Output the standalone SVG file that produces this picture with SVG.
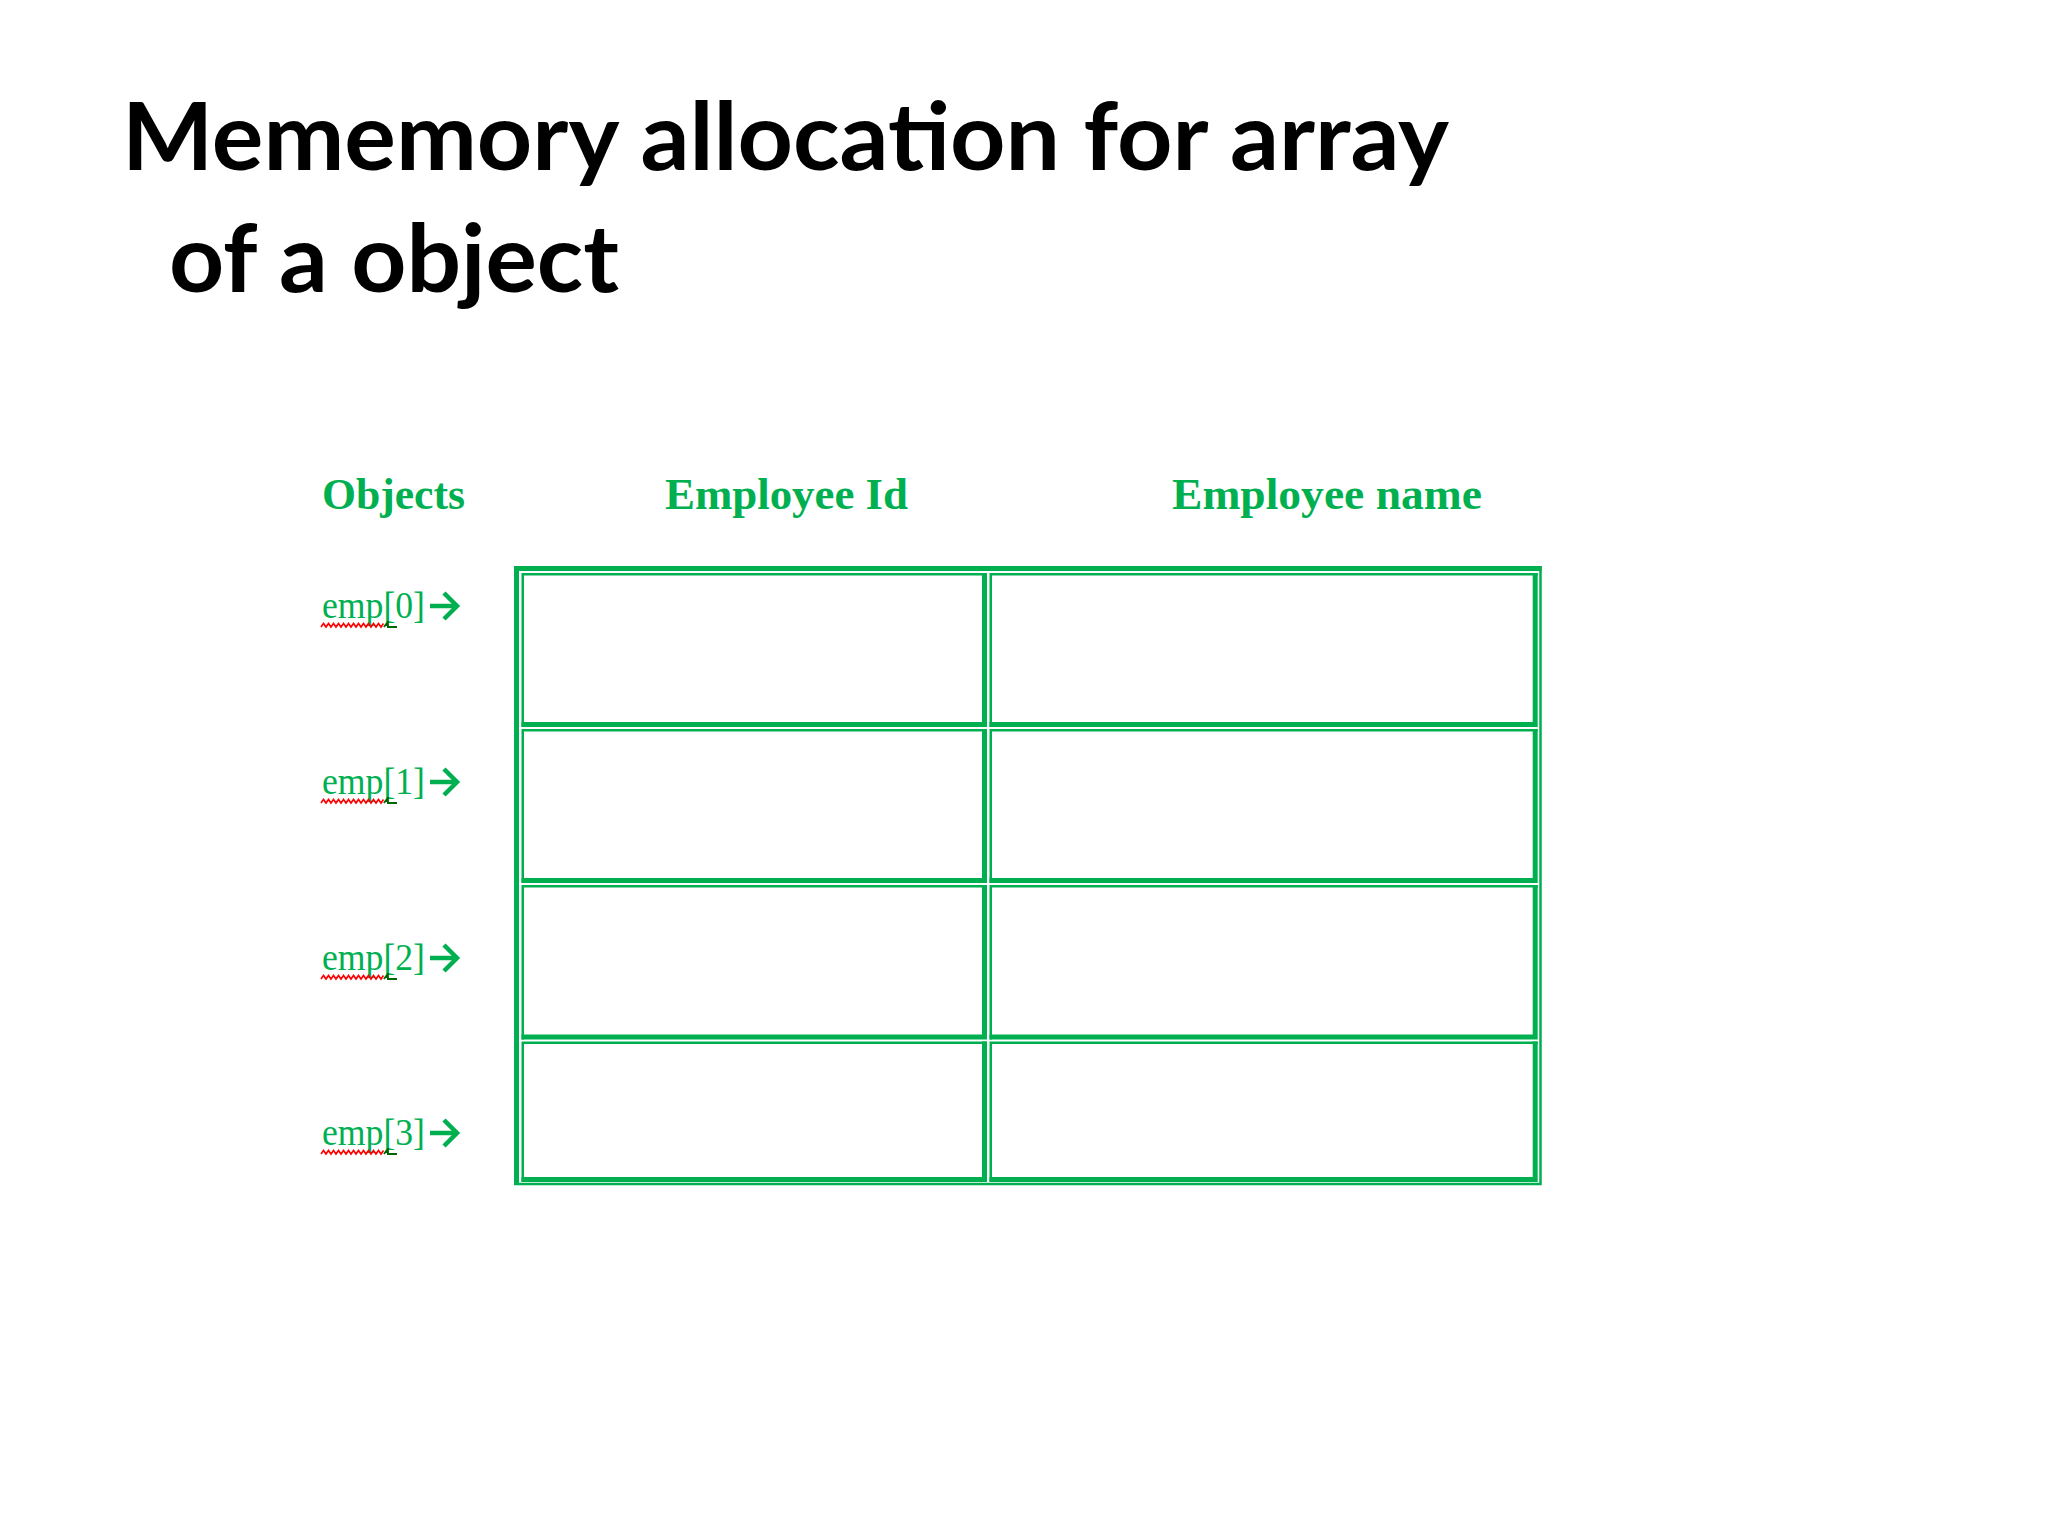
<svg xmlns="http://www.w3.org/2000/svg" xmlns:xlink="http://www.w3.org/1999/xlink" width="2048" height="1536" viewBox="0 0 2048 1536">
  <style>
    .title { font-family: Lato, "Liberation Sans", sans-serif; font-weight: bold; font-size: 94px; fill: #000000; }
    .head { font-family: "Liberation Serif", "Times New Roman", serif; font-weight: bold; font-size: 44px; fill: #00B050; }
    .lbl { font-family: "Liberation Serif", "Times New Roman", serif; font-size: 37px; fill: #00B050; }
    .thin { fill: none; stroke: #00B050; stroke-width: 2.5; }
    .thick { fill: none; stroke: #00B050; stroke-width: 5; }
    .arrow { fill: none; stroke: #00B050; stroke-width: 4.5; stroke-linecap: butt; stroke-linejoin: miter; }
    .spell { fill: none; stroke: #FF0000; stroke-width: 1.6; }
    .gram { fill: none; stroke: #006400; stroke-width: 1.8; }
  </style>
  <defs>
    <g id="pointer">
      <path class="arrow" d="M430,-12 H456"/>
      <path class="arrow" d="M444,-25 L457,-12 L444,1"/>
    </g>
    <g id="squiggle">
      <path class="spell" d="M0,9 l2.5,-3.5 l2.5,3.5 l2.5,-3.5 l2.5,3.5 l2.5,-3.5 l2.5,3.5 l2.5,-3.5 l2.5,3.5 l2.5,-3.5 l2.5,3.5 l2.5,-3.5 l2.5,3.5 l2.5,-3.5 l2.5,3.5 l2.5,-3.5 l2.5,3.5 l2.5,-3.5 l2.5,3.5 l2.5,-3.5 l2.5,3.5 l2.5,-3.5 l2.5,3.5 l2.5,-3.5 l2.5,3.5 l2.5,-3.5"/>
      <path class="gram" d="M63,9 l2.5,-3.5 l2.5,3.5 M67,3 v7 M66,9 h10"/>
    </g>
  </defs>
  <rect x="0" y="0" width="2048" height="1536" fill="#FFFFFF"/>

  <g id="title">
    <text class="title" x="122" y="170" textLength="1327" lengthAdjust="spacingAndGlyphs">Mememory allocation for array</text>
    <text class="title" x="169" y="292" textLength="450" lengthAdjust="spacingAndGlyphs">of a object</text>
  </g>

  <g id="headers">
    <text class="head" x="322" y="509" textLength="143" lengthAdjust="spacingAndGlyphs">Objects</text>
    <text class="head" x="665" y="509" textLength="243" lengthAdjust="spacingAndGlyphs">Employee Id</text>
    <text class="head" x="1172" y="509" textLength="310" lengthAdjust="spacingAndGlyphs">Employee name</text>
  </g>

  <g id="table-frame">
    <path class="thick" d="M516.5,1185 V568.5 H1541.7"/>
    <path class="thin" d="M514,1183.9 H1540.5 V566"/>
  </g>

  <g id="cell-0-id">
    <path class="thin" d="M522.75,727 V574.25 H987"/>
    <path class="thick" d="M521.5,724.5 H984.5 V573"/>
  </g>
  <g id="cell-0-name">
    <path class="thin" d="M990.75,727 V574.25 H1537.7"/>
    <path class="thick" d="M989.5,724.5 H1535.2 V573"/>
  </g>
  <g id="cell-1-id">
    <path class="thin" d="M522.75,883 V730.25 H987"/>
    <path class="thick" d="M521.5,880.5 H984.5 V729"/>
  </g>
  <g id="cell-1-name">
    <path class="thin" d="M990.75,883 V730.25 H1537.7"/>
    <path class="thick" d="M989.5,880.5 H1535.2 V729"/>
  </g>
  <g id="cell-2-id">
    <path class="thin" d="M522.75,1039.5 V886.25 H987"/>
    <path class="thick" d="M521.5,1037 H984.5 V885"/>
  </g>
  <g id="cell-2-name">
    <path class="thin" d="M990.75,1039.5 V886.25 H1537.7"/>
    <path class="thick" d="M989.5,1037 H1535.2 V885"/>
  </g>
  <g id="cell-3-id">
    <path class="thin" d="M522.75,1182 V1042.75 H987"/>
    <path class="thick" d="M521.5,1179.5 H984.5 V1041.5"/>
  </g>
  <g id="cell-3-name">
    <path class="thin" d="M990.75,1182 V1042.75 H1537.7"/>
    <path class="thick" d="M989.5,1179.5 H1535.2 V1041.5"/>
  </g>

  <g id="emp0" transform="translate(0,618)">
    <text class="lbl" x="322" y="0" textLength="103" lengthAdjust="spacingAndGlyphs">emp[0]</text>
    <use xlink:href="#squiggle" href="#squiggle" transform="translate(321,0)"/>
  </g>
  <g id="emp1" transform="translate(0,794)">
    <text class="lbl" x="322" y="0" textLength="103" lengthAdjust="spacingAndGlyphs">emp[1]</text>
    <use xlink:href="#squiggle" href="#squiggle" transform="translate(321,0)"/>
  </g>
  <g id="emp2" transform="translate(0,970)">
    <text class="lbl" x="322" y="0" textLength="103" lengthAdjust="spacingAndGlyphs">emp[2]</text>
    <use xlink:href="#squiggle" href="#squiggle" transform="translate(321,0)"/>
  </g>
  <g id="emp3" transform="translate(0,1145)">
    <text class="lbl" x="322" y="0" textLength="103" lengthAdjust="spacingAndGlyphs">emp[3]</text>
    <use xlink:href="#squiggle" href="#squiggle" transform="translate(321,0)"/>
  </g>

  <g id="connectors">
    <use xlink:href="#pointer" href="#pointer" transform="translate(0,618)"/>
    <use xlink:href="#pointer" href="#pointer" transform="translate(0,794)"/>
    <use xlink:href="#pointer" href="#pointer" transform="translate(0,970)"/>
    <use xlink:href="#pointer" href="#pointer" transform="translate(0,1145)"/>
  </g>
</svg>
